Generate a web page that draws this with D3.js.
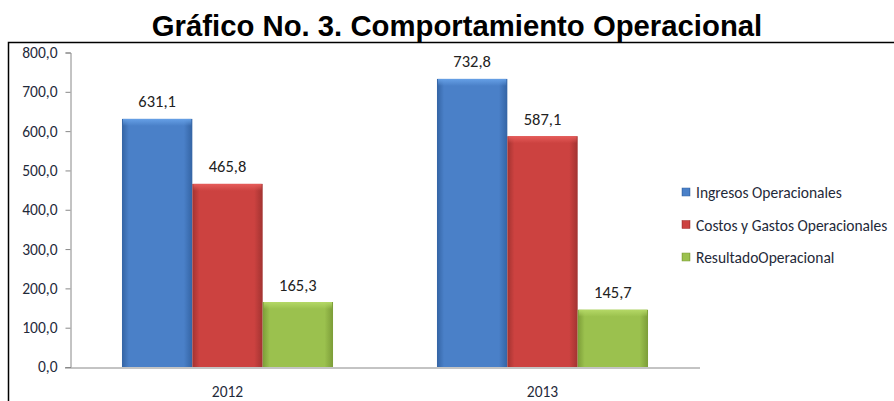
<!DOCTYPE html>
<html>
<head>
<meta charset="utf-8">
<script src="https://cdn.jsdelivr.net/npm/d3@7"></script>
<style>
  body { margin: 0; background: #fff; }
  svg { display: block; }
</style>
</head>
<body>
<script>
var width = 894,
    height = 401;

var years = ["2012", "2013"];
var seriesNames = ["Ingresos Operacionales", "Costos y Gastos Operacionales", "ResultadoOperacional"];
var ingresos = [631.1, 732.8];
var costos = [465.8, 587.1];
var resultado = [165.3, 145.7];
var yTicks = [0, 100, 200, 300, 400, 500, 600, 700, 800];

var seriesValues = [ingresos, costos, resultado];
var colors = [
  { main: "#4a80c8", light: "#66a0e6", dark: "#3464a4" },
  { main: "#cc4240", light: "#e65c5a", dark: "#a23331" },
  { main: "#9bc14e", light: "#b4d866", dark: "#7c9d38" }
];

var fmt = function(v) { return d3.format(".1f")(v).replace(".", ","); };

var svg = d3.select("body").append("svg")
    .attr("width", width)
    .attr("height", height);

var defs = svg.append("defs");
colors.forEach(function(c, i) {
  var g = defs.append("linearGradient")
      .attr("id", "grad" + i)
      .attr("x1", 0).attr("x2", 1).attr("y1", 0).attr("y2", 0);
  g.append("stop").attr("offset", "0%").attr("stop-color", c.dark);
  g.append("stop").attr("offset", "10%").attr("stop-color", c.main);
  g.append("stop").attr("offset", "88%").attr("stop-color", c.main);
  g.append("stop").attr("offset", "100%").attr("stop-color", c.dark);
  var t = defs.append("linearGradient")
      .attr("id", "top" + i)
      .attr("x1", 0).attr("x2", 0).attr("y1", 0).attr("y2", 1);
  t.append("stop").attr("offset", "0%").attr("stop-color", c.light).attr("stop-opacity", 1);
  t.append("stop").attr("offset", "100%").attr("stop-color", c.light).attr("stop-opacity", 0);
});

// title
svg.append("text")
    .attr("x", 457)
    .attr("y", 36)
    .attr("text-anchor", "middle")
    .style("font-family", "Liberation Sans, Arial, sans-serif")
    .style("font-weight", "bold")
    .style("font-size", "29.3px")
    .text("Gráfico No. 3. Comportamiento Operacional");

// frame (top and left lines)
svg.append("path")
    .attr("d", "M8.5,401 V42.5 H894")
    .attr("fill", "none")
    .attr("stroke", "#000")
    .attr("stroke-width", 1.5);

var x0 = d3.scaleBand()
    .domain(years)
    .range([70, 700])
    .paddingInner(0.33)
    .paddingOuter(0.165);

var x1 = d3.scaleBand()
    .domain(d3.range(seriesNames.length))
    .range([0, x0.bandwidth()]);

var y = d3.scaleLinear()
    .domain([0, 800])
    .range([367, 52.5]);

var labelFont = "Carlito, Calibri, 'Open Sans', sans-serif";
var textColor = "#1f2a3a";

// y axis
var yAxis = svg.append("g")
    .attr("transform", "translate(70.5,0)")
    .call(d3.axisLeft(y).tickValues(yTicks).tickFormat(fmt).tickSize(5).tickPadding(8));
yAxis.select(".domain").attr("stroke", "#888");
yAxis.selectAll(".tick line").attr("stroke", "#888");
yAxis.selectAll("text")
    .style("font-family", labelFont)
    .style("font-size", "15.5px")
    .attr("fill", textColor);

// bars
var groups = svg.selectAll(".year")
    .data(years)
    .enter().append("g")
    .attr("class", "year")
    .attr("transform", function(d) { return "translate(" + x0(d) + ",0)"; });

groups.each(function(year, yi) {
  var g = d3.select(this);
  seriesValues.forEach(function(vals, si) {
    var v = vals[yi];
    var bx = x1(si), bw = x1.bandwidth();
    g.append("rect")
        .attr("x", bx)
        .attr("y", y(v))
        .attr("width", bw)
        .attr("height", y(0) - y(v))
        .attr("fill", "url(#grad" + si + ")");
    g.append("rect")
        .attr("x", bx + 1)
        .attr("y", y(v))
        .attr("width", bw - 2)
        .attr("height", 7)
        .attr("fill", "url(#top" + si + ")");
    g.append("text")
        .attr("x", bx + bw / 2)
        .attr("y", y(v) - 11.5)
        .attr("text-anchor", "middle")
        .style("font-family", labelFont)
        .style("font-size", "16.5px")
        .attr("fill", "#222")
        .text(fmt(v));
  });
});

// x axis
var xAxis = svg.append("g")
    .attr("transform", "translate(0," + (y(0) + 0.5) + ")")
    .call(d3.axisBottom(x0).tickSize(0).tickPadding(18));
xAxis.select(".domain").attr("stroke", "#888").attr("d", "M65,0.5H700");
xAxis.selectAll("text")
    .style("font-family", labelFont)
    .style("font-size", "15.5px")
    .attr("fill", textColor);

// legend
var legend = svg.selectAll(".legend")
    .data(seriesNames)
    .enter().append("g")
    .attr("class", "legend")
    .attr("transform", function(d, i) { return "translate(682," + (188 + i * 32.5) + ")"; });

legend.append("rect")
    .attr("width", 8)
    .attr("height", 8)
    .attr("fill", function(d, i) { return "url(#grad" + i + ")"; })
    .attr("stroke", function(d, i) { return colors[i].dark; })
    .attr("stroke-width", 0.5);

legend.append("text")
    .attr("x", 14)
    .attr("y", 10)
    .style("font-family", labelFont)
    .style("font-size", "15.5px")
    .attr("fill", textColor)
    .text(function(d) { return d; });
</script>
</body>
</html>
